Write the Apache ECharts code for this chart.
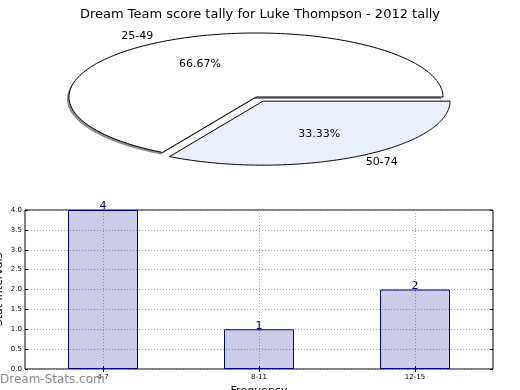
<!DOCTYPE html>
<html><head><meta charset="utf-8">
<script src="https://cdn.jsdelivr.net/npm/echarts@6/dist/echarts.min.js"></script>
<style>html,body{margin:0;padding:0;background:#fff}#c{width:520px;height:390px}</style>
</head><body><div id="c"></div>
<script>
const titleText = 'Dream Team score tally for Luke Thompson - 2012 tally';
const pieCategories = ['25-49', '50-74'];
const pieValues = [2, 1];
const pieColors = ['#ffffff', '#eaf0fc'];
const pieExplode = [0, 0.075];
const barCategories = ['4-7', '8-11', '12-15'];
const barValues = [4, 1, 2];
const yTicks = {min: 0, max: 4, interval: 0.5};

const total = pieValues.reduce((a, b) => a + b, 0);
const starts = [];
let acc = 0;
pieValues.forEach(v => { starts.push(acc); acc += v; });

const chart = echarts.init(document.getElementById('c'), null, {renderer: 'canvas'});
const font = 'DejaVu Sans';

function renderSlice(params, api) {
  const i = params.dataIndex;
  const a0 = starts[i] / total * 2 * Math.PI;
  const a1 = (starts[i] + pieValues[i]) / total * 2 * Math.PI;
  const mid = (a0 + a1) / 2;
  const ox = pieExplode[i] * Math.cos(mid), oy = pieExplode[i] * Math.sin(mid);
  const pts = [api.coord([ox, oy])];
  const n = 160;
  for (let k = 0; k <= n; k++) {
    const a = a0 + (a1 - a0) * k / n;
    pts.push(api.coord([ox + Math.cos(a), oy + Math.sin(a)]));
  }
  const shPts = pts.map(p => [p[0] - 2, p[1] + 2]);
  const lab = api.coord([ox + 1.1 * Math.cos(mid), oy + 1.1 * Math.sin(mid)]);
  const pct = api.coord([ox + 0.6 * Math.cos(mid), oy + 0.6 * Math.sin(mid)]);
  const children = [];
  if (i === 0) {
    children.push({type: 'polygon', shape: {points: shPts}, style: {fill: '#8c8c8c', stroke: null}, z2: 0});
  }
  children.push(
    {type: 'polygon', shape: {points: pts}, z2: 1,
     style: {fill: pieColors[i], stroke: '#000', lineWidth: 1}},
    {type: 'text', x: lab[0], y: lab[1], z2: 2,
     style: {text: pieCategories[i], fill: '#000', fontFamily: font, fontSize: 11,
             align: Math.cos(mid) < 0 ? 'right' : 'left', verticalAlign: 'middle'}},
    {type: 'text', x: pct[0], y: pct[1], z2: 2,
     style: {text: (pieValues[i] / total * 100).toFixed(2) + '%', fill: '#000', fontFamily: font, fontSize: 11,
             align: 'center', verticalAlign: 'middle'}}
  );
  return {type: 'group', children};
}

const grid7 = ['', '', '', '', '', '', ''];
const gridLine = {show: true, lineStyle: {color: '#aaaaaa', type: [1, 2], width: 1}};

chart.setOption({
  animation: false,
  backgroundColor: '#fff',
  textStyle: {fontFamily: font},
  title: {text: titleText, left: 'center', top: 3,
          textStyle: {fontFamily: font, fontSize: 13, fontWeight: 'normal', color: '#000'}},
  grid: [
    {left: 31.6, width: 448.8, top: 20.2, height: 153.6, show: false, containLabel: false, outerBoundsMode: 'none'},
    {left: 25, right: 27, top: 210, bottom: 21, show: true, borderColor: '#000', borderWidth: 1,
     backgroundColor: '#fff', containLabel: false, outerBoundsMode: 'none'}
  ],
  xAxis: [
    {gridIndex: 0, type: 'value', min: -1.2, max: 1.2, show: false},
    {gridIndex: 1, type: 'category', data: barCategories, position: 'bottom',
     axisLine: {show: false},
     axisTick: {show: true, alignWithLabel: true, inside: true, length: 3, lineStyle: {color: '#000'}},
     axisLabel: {fontFamily: font, fontSize: 7, color: '#000', margin: 5},
     splitLine: {show: false},
     name: 'Frequency', nameLocation: 'middle', nameGap: 17, nameMoveOverlap: false,
     nameTextStyle: {fontFamily: font, fontSize: 11, color: '#000'}},
    {gridIndex: 1, type: 'category', data: grid7, boundaryGap: false, position: 'top',
     axisLine: {show: false}, axisLabel: {show: false},
     axisTick: {show: true, inside: true, length: 3, interval: (i) => i % 2 === 1, lineStyle: {color: '#000'}},
     splitLine: Object.assign({interval: (i) => i % 2 === 1}, gridLine)}
  ],
  yAxis: [
    {gridIndex: 0, type: 'value', min: -1.2, max: 1.2, show: false},
    {gridIndex: 1, type: 'value', min: yTicks.min, max: yTicks.max, interval: yTicks.interval,
     position: 'left', axisLine: {show: false},
     axisTick: {show: true, inside: true, length: 3, lineStyle: {color: '#000'}},
     axisLabel: {fontFamily: font, fontSize: 7, color: '#000', margin: 3, formatter: v => v.toFixed(1)},
     splitLine: gridLine,
     name: 'Stat Intervals', nameLocation: 'middle', nameGap: 20, nameRotate: 90, nameMoveOverlap: false,
     nameTextStyle: {fontFamily: font, fontSize: 11, color: '#000'}},
    {gridIndex: 1, type: 'value', min: yTicks.min, max: yTicks.max, interval: yTicks.interval,
     position: 'right', axisLine: {show: false}, axisLabel: {show: false},
     axisTick: {show: true, inside: true, length: 3, lineStyle: {color: '#000'}},
     splitLine: {show: false}}
  ],
  graphic: [
    {type: 'text', left: 0, top: 374, z: 100,
     style: {text: 'Dream-Stats.com', fill: '#8a8a8a', fontFamily: font, fontSize: 12}}
  ],
  series: [
    {type: 'custom', xAxisIndex: 0, yAxisIndex: 0, coordinateSystem: 'cartesian2d',
     renderItem: renderSlice, data: pieValues.map((v, i) => [i, v]), clip: false, silent: true},
    {type: 'bar', xAxisIndex: 1, yAxisIndex: 1, data: barValues, barWidth: 70,
     itemStyle: {color: 'rgba(0,0,128,0.2)', borderColor: '#000080', borderWidth: 1},
     label: {show: true, position: 'top', distance: -2, color: '#000080', fontFamily: font, fontSize: 11}}
  ]
});
</script></body></html>
